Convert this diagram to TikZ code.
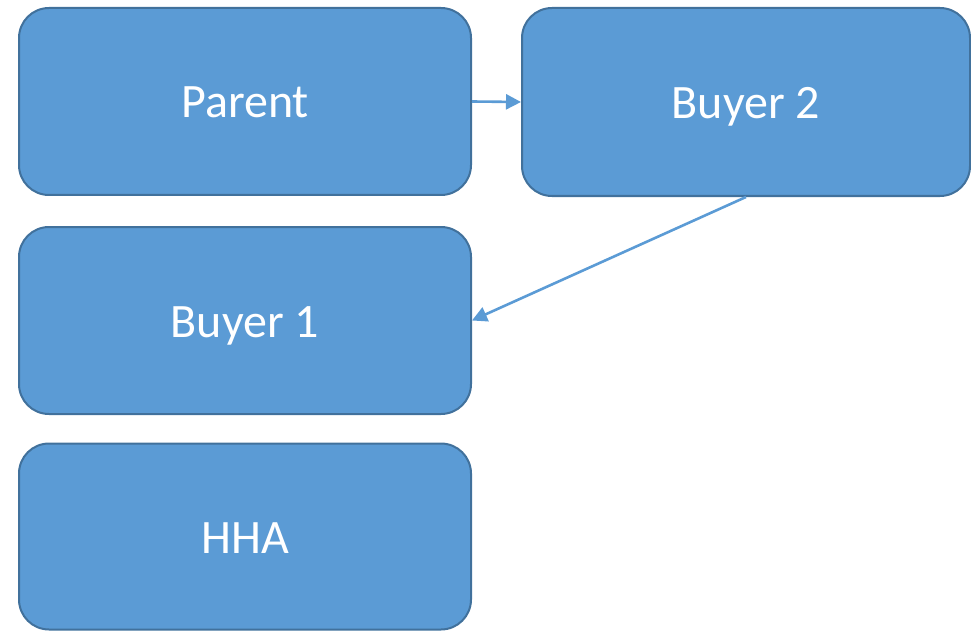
\documentclass[tikz,border=0pt]{standalone}
\usepackage{fontspec}
\setmainfont{Carlito}
\usetikzlibrary{arrows.meta}
\definecolor{boxfill}{HTML}{5B9BD5}
\definecolor{boxline}{HTML}{41719C}
\begin{document}
\begin{tikzpicture}[x=1pt,y=-1pt,
  block/.style={draw=boxline, fill=boxfill, line width=2pt, rounded corners=30pt,
    text=white, font=\fontsize{48}{56}\selectfont, inner sep=0pt,
    text height=33pt, text depth=0pt},
  link/.style={draw=boxfill, line width=2.6pt, -{Triangle[length=15pt,width=15pt]}}]
  \useasboundingbox (0,0) rectangle (971,631);
  \node[block, minimum width=452pt, minimum height=187pt] (parent) at (245,101.5) {Parent};
  \node[block, minimum width=448pt, minimum height=188pt] (buyer2) at (746,102) {Buyer 2};
  \node[block, minimum width=452pt, minimum height=187pt] (buyer1) at (245,320.5) {Buyer 1};
  \node[block, minimum width=452pt, minimum height=186pt] (hha) at (245,536.5) {HHA};
  \draw[link] (parent.east) -- (buyer2.west);
  \draw[link] (buyer2.south) -- (buyer1.east);
\end{tikzpicture}
\end{document}
